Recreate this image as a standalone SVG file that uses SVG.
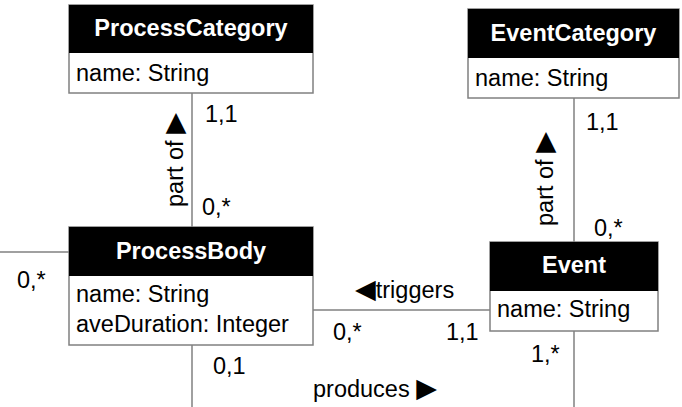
<svg xmlns="http://www.w3.org/2000/svg" width="682" height="407" viewBox="0 0 682 407">
<style>
text { font-family: "Liberation Sans", Arial, "DejaVu Sans", sans-serif; font-size: 23.5px; fill: #000; }
.tri { font-family: "DejaVu Sans", sans-serif; font-size: 27px; }
.hdr { fill: #000; }
.box { fill: #fff; stroke: #808080; stroke-width: 1.5; }
.title { font-weight: bold; fill: #fff; text-anchor: middle; font-size: 23.5px; }
.conn line { stroke: #808080; stroke-width: 1.5; }
</style>
<rect width="682" height="407" fill="#fff"/>
<g id="connectors" class="conn">
  <line x1="192" y1="93" x2="192" y2="227"/>
  <line x1="574" y1="98" x2="574" y2="242"/>
  <line x1="0" y1="252" x2="69" y2="252"/>
  <line x1="313" y1="310" x2="490" y2="310"/>
  <line x1="192" y1="345" x2="192" y2="407"/>
  <line x1="574" y1="331" x2="574" y2="407"/>
</g>
<g id="ProcessCategory">
  <rect class="box" x="69" y="5" width="244" height="88"/>
  <rect class="hdr" x="69" y="5" width="244" height="48"/>
  <text class="title" x="191" y="36">ProcessCategory</text>
  <text x="76" y="81">name: String</text>
</g>
<g id="EventCategory">
  <rect class="box" x="468" y="9" width="211" height="89"/>
  <rect class="hdr" x="468" y="9" width="211" height="49"/>
  <text class="title" x="573.5" y="41">EventCategory</text>
  <text x="475" y="86">name: String</text>
</g>
<g id="ProcessBody">
  <rect class="box" x="69" y="227" width="244" height="118"/>
  <rect class="hdr" x="69" y="227" width="244" height="49"/>
  <text class="title" x="191" y="259">ProcessBody</text>
  <text x="76" y="302">name: String</text>
  <text x="76" y="332">aveDuration: Integer</text>
</g>
<g id="Event">
  <rect class="box" x="490" y="242" width="168" height="89"/>
  <rect class="hdr" x="490" y="242" width="168" height="49"/>
  <text class="title" x="574" y="273">Event</text>
  <text x="497" y="317">name: String</text>
</g>
<g id="labels">
  <text x="205" y="122">1,1</text>
  <text x="202" y="215">0,*</text>
  <text transform="translate(183,207) rotate(-90)">part of <tspan class="tri">▶</tspan></text>
  <text x="586" y="130">1,1</text>
  <text x="594" y="236">0,*</text>
  <text transform="translate(553,226) rotate(-90)">part of <tspan class="tri">▶</tspan></text>
  <text x="17" y="288">0,*</text>
  <text x="355" y="298"><tspan class="tri">◀</tspan>triggers</text>
  <text x="333" y="340">0,*</text>
  <text x="446" y="340">1,1</text>
  <text x="213" y="374">0,1</text>
  <text x="531" y="362">1,*</text>
  <text x="313" y="397">produces <tspan class="tri">▶</tspan></text>
</g>
</svg>
